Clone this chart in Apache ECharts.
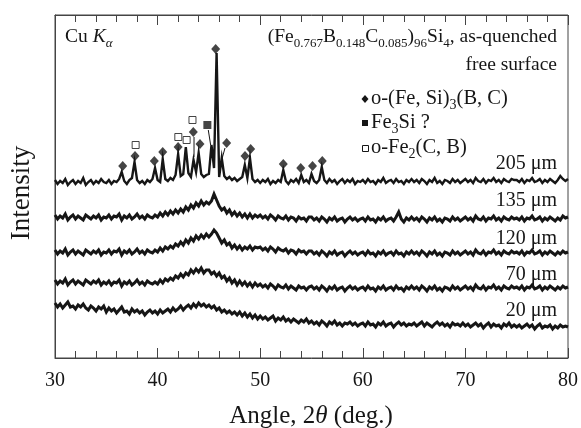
<!DOCTYPE html>
<html>
<head>
<meta charset="utf-8">
<script src="https://cdn.jsdelivr.net/npm/echarts@6/dist/echarts.min.js"></script>
<style>html,body{margin:0;padding:0;background:#fff;}#c{width:581px;height:428px;}</style>
</head>
<body>
<div id="c"></div>
<script>
// Angle grid (deg): first angle and step of the scans
const angleStart = 30;
const angleStep = 0.25;
const xTicks = [30, 40, 50, 60, 70, 80];

// Intensity (arb. units, offset curves), one value per angle step
const int20 = [
55,51,54,50,53,56,51,52,49,53,51,54,50,48,52,50,47,51,49,52,
46,50,47,49,45,48,51,46,47,44,49,46,48,45,47,43,46,48,45,47,
44,48,45,47,49,46,50,47,49,52,48,51,53,50,54,51,55,52,54,51,
53,50,52,48,50,46,48,45,47,44,46,43,46,42,45,41,44,40,43,39,
42,39,41,38,40,42,37,40,38,41,37,39,36,39,37,35,38,36,39,35,
37,34,36,33,37,35,32,36,34,37,33,35,32,35,34,36,33,35,32,34,
35,32,36,33,34,31,35,33,36,32,34,35,31,34,36,33,35,32,34,33,
35,32,34,36,32,35,33,31,34,36,33,35,32,34,31,35,33,34,32,35,
32,34,31,33,35,32,34,30,33,35,31,34,32,33,30,34,32,35,31,33,
31,33,30,32,34,31,33,29,32,34,30,32,31,33,29,32,30,33,31,32,
31];
const int70 = [
78,74,77,75,79,73,76,78,74,77,75,73,78,76,74,77,75,78,73,76,
74,77,73,76,75,78,72,76,74,77,73,75,78,74,76,73,77,75,74,76,
74,78,75,79,77,80,78,82,80,84,81,85,83,88,85,89,86,90,85,88,
88,84,86,82,85,80,82,77,80,75,78,73,77,73,76,72,75,71,75,72,
74,71,73,70,74,72,69,73,71,70,73,69,72,70,68,72,70,71,68,71,
72,69,71,68,72,70,67,71,69,72,68,70,71,67,70,72,69,71,68,70,
71,68,72,69,70,67,71,69,72,68,70,71,68,72,69,70,67,71,69,72,
69,71,68,72,70,67,71,69,72,68,70,67,71,70,68,72,69,71,68,70,
72,69,71,68,73,70,69,72,68,71,70,73,69,71,68,72,70,69,72,70,
71,69,72,68,71,70,73,69,70,72,68,71,69,72,70,68,71,69,72,70,
71];
const int120 = [
108,104,107,105,109,103,106,108,104,107,105,103,108,106,104,107,105,108,103,106,
105,108,104,107,106,109,103,107,105,108,104,106,109,105,107,104,108,106,105,108,
106,110,107,111,109,112,110,114,112,116,113,118,115,120,117,122,119,123,120,124,
121,124,128,125,120,115,118,113,115,110,113,109,112,108,111,109,112,108,111,110,
111,108,110,107,111,109,106,110,108,107,109,105,108,107,104,108,106,107,104,107,
107,104,106,103,107,105,102,106,104,107,103,105,106,102,105,107,104,106,103,105,
106,103,107,104,105,102,106,104,107,103,105,106,103,107,104,105,102,106,104,107,
104,106,103,107,105,102,106,104,107,103,105,102,106,105,103,107,104,106,103,105,
107,104,106,103,108,105,104,107,103,106,105,108,104,106,103,107,105,104,107,105,
106,104,107,103,106,105,108,104,105,107,103,106,104,107,105,103,106,104,107,105,
106];
const int135 = [
143,139,142,140,144,138,141,143,139,142,140,138,143,141,139,142,140,143,138,141,
140,143,139,142,141,144,138,142,140,143,139,141,144,140,142,139,143,141,140,143,
141,145,142,146,143,147,144,148,145,149,146,151,148,153,150,155,152,157,153,156,
154,157,164,158,152,148,150,145,148,143,146,142,145,141,144,140,144,140,143,141,
143,140,142,139,143,141,138,142,140,139,142,138,141,140,137,141,139,140,137,141,
141,138,140,137,141,139,136,140,138,141,137,139,140,136,139,141,138,140,137,139,
140,137,141,138,139,136,140,138,141,137,139,140,137,141,146,139,136,140,138,141,
138,140,137,141,139,136,140,138,141,137,139,136,140,139,137,141,138,140,137,139,
141,138,140,137,142,139,138,141,137,140,139,142,138,140,137,141,139,138,141,139,
140,138,141,137,140,139,142,138,139,141,137,140,138,141,139,137,140,138,142,140,
141];
const int205 = [
178,174,177,175,179,173,176,178,174,177,175,180,173,176,178,174,177,175,179,176,
175,178,174,177,176,179,186,177,174,178,180,196,178,175,177,174,178,176,179,190,
178,176,199,179,177,180,178,183,204,182,184,211,185,181,198,186,205,184,181,183,
184,213,190,305,181,200,182,179,181,178,180,177,179,181,193,180,200,179,176,178,
175,178,176,179,174,177,175,178,176,188,177,174,178,176,179,175,183,176,178,175,
184,177,175,178,191,178,175,179,176,178,174,177,179,175,178,176,179,174,177,176,
178,175,179,176,177,174,178,176,180,175,177,178,175,179,176,177,174,178,176,179,
176,178,175,179,177,174,178,176,180,175,177,174,178,177,175,179,176,178,175,177,
179,176,178,175,180,177,176,179,175,178,177,180,176,178,175,179,177,176,179,178,
178,176,179,175,178,177,180,176,177,179,175,178,176,179,177,175,178,182,179,177,
179];

const curveNames = ['20 μm', '70 μm', '120 μm', '135 μm', '205 μm'];
const curves = [int20, int70, int120, int135, int205];

// Phase markers [angle, intensity]
const diamondPts = [[36.6,192],[37.8,202],[39.68,197],[40.5,206],[42.0,211],[43.48,226],[44.13,214],[45.66,309],[46.73,215],[48.52,202],[49.07,209],[52.25,194],[53.95,190],[55.1,192],[56.05,197]];
const openSquarePts = [[37.86,213],[42.02,221],[42.83,218],[43.4,238]];
const filledSquarePts = [[44.85,233]];
const leaderLines = [[[43.55,221],[43.55,201]], [[44.94,228],[45.17,213]], [[46.57,210],[46.3,200]]];

const FONT = '"Liberation Serif", "Times New Roman", serif';
const INK = '#161616';

const chart = echarts.init(document.getElementById('c'), null, {renderer: 'canvas'});

const series = [];
curves.forEach((vals, k) => {
  series.push({
    type: 'line', name: curveNames[k], showSymbol: false, symbol: 'none',
    data: vals.map((v, i) => [angleStart + i * angleStep, v]),
    lineStyle: {color: INK, width: k === 4 ? 2.4 : 3, join: 'miter'}, animation: false, z: 2
  });
});
leaderLines.forEach(seg => {
  series.push({type: 'line', data: seg, showSymbol: false, symbol: 'none',
    lineStyle: {color: INK, width: 1}, animation: false, z: 3});
});
series.push({type: 'scatter', data: diamondPts, symbol: 'diamond', symbolSize: [9, 10],
  itemStyle: {color: INK}, animation: false, z: 4});
series.push({type: 'scatter', data: openSquarePts, symbol: 'rect', symbolSize: 7,
  itemStyle: {color: '#fff', borderColor: INK, borderWidth: 1}, animation: false, z: 4});
series.push({type: 'scatter', data: filledSquarePts, symbol: 'rect', symbolSize: 8,
  itemStyle: {color: INK}, animation: false, z: 4});

function rich(size) {
  const ss = Math.round(size * 0.68);
  return {
    b: {fontFamily: FONT, fontSize: size, lineHeight: size + 6, verticalAlign: 'middle', color: INK},
    i: {fontFamily: FONT, fontSize: size, fontStyle: 'italic', lineHeight: size + 6, verticalAlign: 'middle', color: INK},
    s: {fontFamily: FONT, fontSize: ss, lineHeight: ss, verticalAlign: 'bottom', color: INK},
    si: {fontFamily: FONT, fontSize: ss, fontStyle: 'italic', lineHeight: ss, verticalAlign: 'bottom', color: INK}
  };
}
function txt(text, x, y, size, align, extra) {
  return Object.assign({
    type: 'text', x: x, y: y, z: 10,
    style: {text: text, rich: rich(size), align: align, verticalAlign: 'middle',
      font: size + 'px ' + FONT, fill: INK}
  }, extra || {});
}

const graphics = [
  txt('{b|Cu }{i|K}{si|α}', 65, 37, 19.5, 'left'),
  txt('{b|(Fe}{s|0.767}{b|B}{s|0.148}{b|C}{s|0.085}{b|)}{s|96}{b|Si}{s|4}{b|, as-quenched}', 557, 37, 19.5, 'right'),
  txt('{b|free surface}', 557, 65, 19.5, 'right'),
  txt('{b|o-(Fe, Si)}{s|3}{b|(B, C)}', 371, 99, 20.5, 'left'),
  txt('{b|Fe}{s|3}{b|Si ?}', 371, 123, 20.5, 'left'),
  txt('{b|o-Fe}{s|2}{b|(C, B)}', 371, 148, 20.5, 'left'),
  {type: 'polygon', shape: {points: [[365, 95], [368.5, 99], [365, 103], [361.5, 99]]}, style: {fill: INK}},
  {type: 'rect', shape: {x: 362, y: 120, width: 6, height: 6}, style: {fill: INK}},
  {type: 'rect', shape: {x: 362.5, y: 145.5, width: 6, height: 6}, style: {fill: '#fff', stroke: INK, lineWidth: 1}},
  txt('{b|205 μm}', 557, 164, 20, 'right'),
  txt('{b|135 μm}', 557, 201, 20, 'right'),
  txt('{b|120 μm}', 557, 239, 20, 'right'),
  txt('{b|70 μm}', 557, 275, 20, 'right'),
  txt('{b|20 μm}', 557, 311, 20, 'right'),
  txt('{b|Angle, 2}{i|θ}{b| (deg.)}', 311, 416, 25, 'center'),
  txt('{b|Intensity}', 22, 193, 27, 'center', {rotation: Math.PI / 2})
];

const xCommon = {
  type: 'value', min: 30, max: 80, interval: 10,
  axisLine: {show: true, lineStyle: {color: '#444', width: 1}},
  axisTick: {show: true, inside: true, length: 10, lineStyle: {color: '#444'}},
  minorTick: {show: true, splitNumber: 5, length: 7, lineStyle: {color: '#444'}},
  splitLine: {show: false}, minorSplitLine: {show: false}
};

chart.setOption({
  animation: false,
  backgroundColor: '#fff',
  grid: {left: 55, right: 13, top: 15, bottom: 70, show: true, borderColor: '#444', borderWidth: 1, backgroundColor: 'transparent'},
  xAxis: [
    Object.assign({}, xCommon, {position: 'bottom',
      axisLabel: {show: true, margin: 13, fontSize: 20, fontFamily: FONT, color: INK,
        formatter: v => (xTicks.indexOf(v) >= 0 ? String(v) : '')}}),
    Object.assign({}, xCommon, {position: 'top', axisLabel: {show: false}})
  ],
  yAxis: {type: 'value', min: 0, max: 343, show: true,
    axisLine: {show: true, lineStyle: {color: '#444'}}, axisTick: {show: false},
    axisLabel: {show: false}, splitLine: {show: false}},
  series: series,
  graphic: graphics
});
</script>
</body>
</html>
